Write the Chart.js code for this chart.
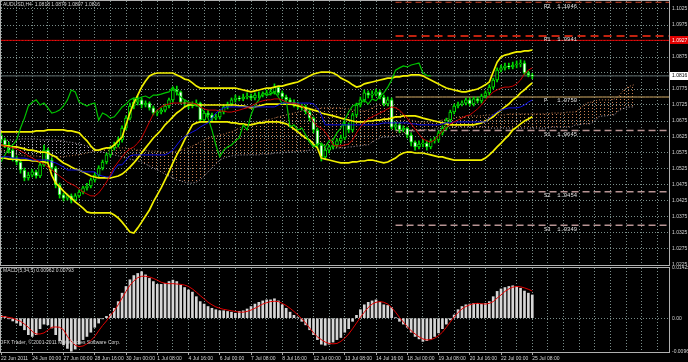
<!DOCTYPE html>
<html>
<head>
<meta charset="utf-8">
<script src="https://cdn.jsdelivr.net/npm/chart.js@4.4.1/dist/chart.umd.min.js"></script>
<style>
  html, body { margin: 0; padding: 0; background: #000; }
  #wrap { position: relative; width: 688px; height: 362px; overflow: hidden; background: #000; }
  #main { position: absolute; left: 0; top: 0; }
  #macd { position: absolute; left: 0; top: 266px; }
</style>
</head>
<body>
<div id="wrap">
  <canvas id="main" width="688" height="266"></canvas>
  <canvas id="macd" width="688" height="96"></canvas>
</div>
<script>
// ---- data (AUDUSD H4, 22 Jun - 25 Jul 2011) ----
const symbolTitle = 'AUDUSD,H4  1.0818 1.0879 1.0807 1.0816';
const macdTitle = 'MACD(5,34,5) 0.00962 0.00793';
const copyright = 'IFX Trader, \u00a9 2001-2011 MetaQuotes Software Corp.';

const SLOTS = 172;        // bar slots visible across the window
const LABEL_EVERY = 8;    // one time label every 8 bars
const CLOUD_SHIFT = 26;   // chikou drawn 26 bars back
const PIVOT_FROM = 101;   // pivot lines start at this bar

const tickLabels = ['22 Jun 2011', '24 Jun 00:00', '27 Jun 00:00', '28 Jun 16:00', '30 Jun 00:00',
  '1 Jul 08:00', '4 Jul 16:00', '6 Jul 00:00', '7 Jul 08:00', '8 Jul 16:00', '12 Jul 00:00',
  '13 Jul 08:00', '14 Jul 16:00', '18 Jul 00:00', '19 Jul 08:00', '20 Jul 16:00', '22 Jul 00:00',
  '25 Jul 08:00'];

const priceTicks = [1.0225, 1.0275, 1.0325, 1.0375, 1.0425, 1.0475, 1.0525, 1.0575, 1.0625, 1.0675,
  1.0725, 1.0775, 1.0825, 1.0875, 1.0925, 1.0975, 1.1025];
const hiddenPriceTicks = [1.0825, 1.0925];
const PRICE_MIN = 1.0225, PRICE_MAX = 1.1050;

const opens = [
  1.0630,1.0616,1.0600,1.0584,1.0559,1.0547,1.0522,1.0497,1.0506,1.0516,
  1.0503,1.0538,1.0584,1.0553,1.0528,1.0475,1.0444,1.0434,1.0441,1.0428,
  1.0441,1.0453,1.0466,1.0472,1.0491,1.0506,1.0528,1.0547,1.0569,1.0591,
  1.0600,1.0616,1.0653,1.0684,1.0722,1.0734,1.0741,1.0725,1.0731,1.0716,
  1.0700,1.0703,1.0709,1.0722,1.0741,1.0772,1.0766,1.0734,1.0728,1.0722,
  1.0728,1.0731,1.0678,1.0700,1.0694,1.0684,1.0688,1.0703,1.0719,1.0728,
  1.0741,1.0747,1.0744,1.0750,1.0753,1.0747,1.0756,1.0756,1.0759,1.0763,
  1.0766,1.0781,1.0763,1.0750,1.0741,1.0734,1.0728,1.0722,1.0719,1.0703,
  1.0684,1.0647,1.0600,1.0563,1.0584,1.0594,1.0600,1.0613,1.0622,1.0663,
  1.0647,1.0694,1.0725,1.0741,1.0763,1.0756,1.0759,1.0766,1.0750,1.0728,
  1.0741,1.0656,1.0663,1.0647,1.0653,1.0631,1.0609,1.0594,1.0603,1.0606,
  1.0594,1.0613,1.0616,1.0638,1.0653,1.0678,1.0703,1.0722,1.0728,1.0731,
  1.0741,1.0728,1.0744,1.0738,1.0753,1.0763,1.0781,1.0803,1.0834,1.0841,
  1.0847,1.0844,1.0850,1.0853,1.0856,1.0825,1.0818];
const highs = [
  1.0641,1.0622,1.0609,1.0590,1.0566,1.0553,1.0528,1.0515,1.0524,1.0522,
  1.0545,1.0600,1.0590,1.0560,1.0533,1.0481,1.0450,1.0447,1.0447,1.0448,
  1.0460,1.0472,1.0480,1.0497,1.0513,1.0535,1.0553,1.0575,1.0597,1.0609,
  1.0625,1.0660,1.0691,1.0731,1.0744,1.0753,1.0747,1.0738,1.0735,1.0722,
  1.0709,1.0716,1.0728,1.0747,1.0781,1.0784,1.0769,1.0741,1.0734,1.0735,
  1.0741,1.0734,1.0706,1.0709,1.0700,1.0697,1.0709,1.0725,1.0734,1.0747,
  1.0756,1.0753,1.0759,1.0763,1.0759,1.0763,1.0766,1.0766,1.0772,1.0775,
  1.0791,1.0784,1.0769,1.0756,1.0747,1.0741,1.0734,1.0728,1.0725,1.0709,
  1.0688,1.0653,1.0606,1.0591,1.0600,1.0609,1.0619,1.0631,1.0672,1.0669,
  1.0700,1.0731,1.0750,1.0772,1.0769,1.0769,1.0775,1.0772,1.0756,1.0750,
  1.0747,1.0672,1.0669,1.0660,1.0656,1.0638,1.0613,1.0613,1.0616,1.0613,
  1.0619,1.0625,1.0644,1.0660,1.0684,1.0709,1.0728,1.0734,1.0738,1.0747,
  1.0747,1.0750,1.0750,1.0759,1.0769,1.0788,1.0809,1.0841,1.0850,1.0856,
  1.0856,1.0859,1.0863,1.0866,1.0863,1.0831,1.0824];
const lows = [
  1.0608,1.0592,1.0575,1.0550,1.0538,1.0512,1.0488,1.0490,1.0500,1.0496,
  1.0498,1.0533,1.0547,1.0520,1.0466,1.0434,1.0425,1.0428,1.0419,1.0422,
  1.0436,1.0447,1.0459,1.0466,1.0484,1.0500,1.0522,1.0541,1.0563,1.0584,
  1.0594,1.0609,1.0647,1.0678,1.0713,1.0725,1.0716,1.0719,1.0709,1.0694,
  1.0691,1.0697,1.0703,1.0716,1.0734,1.0756,1.0728,1.0719,1.0713,1.0716,
  1.0722,1.0672,1.0672,1.0688,1.0675,1.0678,1.0681,1.0697,1.0713,1.0722,
  1.0734,1.0738,1.0738,1.0744,1.0741,1.0741,1.0747,1.0750,1.0753,1.0756,
  1.0759,1.0756,1.0744,1.0734,1.0725,1.0719,1.0713,1.0709,1.0697,1.0675,
  1.0638,1.0591,1.0550,1.0556,1.0575,1.0588,1.0594,1.0606,1.0616,1.0638,
  1.0641,1.0688,1.0719,1.0734,1.0747,1.0747,1.0753,1.0744,1.0722,1.0722,
  1.0650,1.0647,1.0638,1.0641,1.0622,1.0597,1.0584,1.0588,1.0594,1.0584,
  1.0588,1.0606,1.0609,1.0631,1.0647,1.0672,1.0697,1.0716,1.0722,1.0725,
  1.0722,1.0722,1.0731,1.0731,1.0747,1.0756,1.0775,1.0797,1.0828,1.0834,
  1.0838,1.0838,1.0841,1.0844,1.0819,1.0813,1.0807];
const closes = [
  1.0616,1.0600,1.0584,1.0559,1.0547,1.0522,1.0497,1.0506,1.0516,1.0503,
  1.0538,1.0584,1.0553,1.0528,1.0475,1.0444,1.0434,1.0441,1.0428,1.0441,
  1.0453,1.0466,1.0472,1.0491,1.0506,1.0528,1.0547,1.0569,1.0591,1.0600,
  1.0616,1.0653,1.0684,1.0722,1.0734,1.0741,1.0725,1.0731,1.0716,1.0700,
  1.0703,1.0709,1.0722,1.0741,1.0772,1.0766,1.0734,1.0728,1.0722,1.0728,
  1.0731,1.0678,1.0700,1.0694,1.0684,1.0688,1.0703,1.0719,1.0728,1.0741,
  1.0747,1.0744,1.0750,1.0753,1.0747,1.0756,1.0756,1.0759,1.0763,1.0766,
  1.0781,1.0763,1.0750,1.0741,1.0734,1.0728,1.0722,1.0719,1.0703,1.0684,
  1.0647,1.0600,1.0563,1.0584,1.0594,1.0600,1.0613,1.0622,1.0663,1.0647,
  1.0694,1.0725,1.0741,1.0763,1.0756,1.0759,1.0766,1.0750,1.0728,1.0741,
  1.0656,1.0663,1.0647,1.0653,1.0631,1.0609,1.0594,1.0603,1.0606,1.0594,
  1.0613,1.0616,1.0638,1.0653,1.0678,1.0703,1.0722,1.0728,1.0731,1.0741,
  1.0728,1.0744,1.0738,1.0753,1.0763,1.0781,1.0803,1.0834,1.0841,1.0847,
  1.0844,1.0850,1.0853,1.0856,1.0825,1.0818,1.0816];

// Bollinger bands
const bbUpper = [
  1.0641,1.0641,1.0641,1.0641,1.0641,1.0641,1.0641,1.0641,1.0641,1.0644,
  1.0644,1.0644,1.0647,1.0647,1.0647,1.0647,1.0647,1.0644,1.0644,1.0641,
  1.0638,1.0625,1.0613,1.0597,1.0584,1.0584,1.0588,1.0591,1.0591,1.0600,
  1.0613,1.0625,1.0663,1.0700,1.0731,1.0756,1.0781,1.0800,1.0816,1.0822,
  1.0825,1.0825,1.0825,1.0825,1.0825,1.0819,1.0813,1.0806,1.0803,1.0794,
  1.0784,1.0778,1.0778,1.0778,1.0778,1.0778,1.0778,1.0778,1.0778,1.0778,
  1.0778,1.0775,1.0772,1.0769,1.0766,1.0769,1.0772,1.0775,1.0778,1.0778,
  1.0781,1.0784,1.0784,1.0788,1.0791,1.0794,1.0797,1.0803,1.0809,1.0816,
  1.0822,1.0825,1.0828,1.0828,1.0828,1.0825,1.0819,1.0809,1.0803,1.0797,
  1.0788,1.0781,1.0784,1.0791,1.0794,1.0797,1.0800,1.0803,1.0806,1.0809,
  1.0809,1.0813,1.0813,1.0816,1.0816,1.0819,1.0819,1.0819,1.0816,1.0809,
  1.0803,1.0797,1.0791,1.0784,1.0778,1.0775,1.0772,1.0769,1.0766,1.0766,
  1.0769,1.0772,1.0775,1.0781,1.0788,1.0797,1.0828,1.0859,1.0875,1.0881,
  1.0884,1.0888,1.0891,1.0891,1.0894,1.0894,1.0897];
const bbMiddle = [
  1.0600,1.0597,1.0597,1.0594,1.0594,1.0591,1.0588,1.0584,1.0584,1.0581,
  1.0578,1.0578,1.0575,1.0569,1.0563,1.0553,1.0544,1.0538,1.0531,1.0525,
  1.0522,1.0516,1.0509,1.0503,1.0500,1.0497,1.0497,1.0497,1.0497,1.0500,
  1.0503,1.0509,1.0519,1.0531,1.0544,1.0559,1.0575,1.0591,1.0606,1.0622,
  1.0634,1.0647,1.0663,1.0675,1.0688,1.0700,1.0709,1.0719,1.0725,1.0725,
  1.0725,1.0725,1.0725,1.0725,1.0725,1.0725,1.0725,1.0725,1.0725,1.0725,
  1.0725,1.0722,1.0722,1.0719,1.0716,1.0719,1.0722,1.0725,1.0728,1.0728,
  1.0728,1.0728,1.0728,1.0728,1.0728,1.0725,1.0722,1.0719,1.0716,1.0713,
  1.0709,1.0706,1.0700,1.0697,1.0694,1.0691,1.0688,1.0684,1.0681,1.0678,
  1.0675,1.0672,1.0672,1.0672,1.0675,1.0675,1.0678,1.0678,1.0681,1.0681,
  1.0684,1.0688,1.0688,1.0691,1.0691,1.0691,1.0691,1.0688,1.0684,1.0681,
  1.0678,1.0675,1.0672,1.0669,1.0666,1.0663,1.0663,1.0663,1.0663,1.0663,
  1.0663,1.0663,1.0666,1.0669,1.0675,1.0681,1.0688,1.0700,1.0709,1.0719,
  1.0728,1.0741,1.0750,1.0763,1.0772,1.0784,1.0794];
const bbLower = [
  1.0559,1.0559,1.0556,1.0556,1.0556,1.0553,1.0553,1.0553,1.0550,1.0550,
  1.0547,1.0547,1.0544,1.0506,1.0481,1.0469,1.0456,1.0444,1.0434,1.0422,
  1.0413,1.0403,1.0391,1.0388,1.0388,1.0388,1.0388,1.0388,1.0388,1.0381,
  1.0372,1.0359,1.0344,1.0328,1.0325,1.0341,1.0359,1.0378,1.0397,1.0422,
  1.0444,1.0466,1.0491,1.0516,1.0544,1.0569,1.0591,1.0616,1.0641,1.0663,
  1.0669,1.0672,1.0672,1.0672,1.0672,1.0672,1.0672,1.0672,1.0672,1.0669,
  1.0669,1.0666,1.0666,1.0663,1.0663,1.0666,1.0669,1.0669,1.0672,1.0672,
  1.0672,1.0672,1.0669,1.0666,1.0659,1.0650,1.0641,1.0631,1.0622,1.0616,
  1.0603,1.0591,1.0559,1.0556,1.0553,1.0550,1.0547,1.0544,1.0544,1.0544,
  1.0547,1.0547,1.0550,1.0550,1.0553,1.0553,1.0550,1.0547,1.0544,1.0547,
  1.0553,1.0559,1.0569,1.0575,1.0578,1.0578,1.0575,1.0575,1.0575,1.0572,
  1.0569,1.0566,1.0563,1.0563,1.0559,1.0556,1.0553,1.0553,1.0553,1.0553,
  1.0553,1.0553,1.0553,1.0553,1.0559,1.0569,1.0581,1.0594,1.0606,1.0619,
  1.0631,1.0647,1.0656,1.0666,1.0675,1.0681,1.0688];

// Ichimoku
const tenkan = [
  1.0600,1.0597,1.0594,1.0591,1.0588,1.0581,1.0575,1.0566,1.0559,1.0553,
  1.0547,1.0541,1.0531,1.0522,1.0513,1.0503,1.0494,1.0484,1.0478,1.0472,
  1.0463,1.0453,1.0447,1.0441,1.0441,1.0450,1.0466,1.0484,1.0506,1.0531,
  1.0547,1.0563,1.0578,1.0588,1.0594,1.0606,1.0622,1.0647,1.0672,1.0697,
  1.0709,1.0719,1.0725,1.0728,1.0731,1.0731,1.0731,1.0731,1.0731,1.0731,
  1.0728,1.0719,1.0713,1.0709,1.0709,1.0709,1.0706,1.0706,1.0703,1.0703,
  1.0706,1.0709,1.0713,1.0716,1.0722,1.0728,1.0734,1.0738,1.0741,1.0741,
  1.0744,1.0744,1.0741,1.0734,1.0731,1.0731,1.0728,1.0722,1.0709,1.0694,
  1.0672,1.0659,1.0653,1.0641,1.0622,1.0600,1.0597,1.0597,1.0600,1.0603,
  1.0616,1.0638,1.0656,1.0672,1.0681,1.0688,1.0694,1.0700,1.0706,1.0713,
  1.0719,1.0716,1.0709,1.0697,1.0684,1.0666,1.0650,1.0634,1.0619,1.0613,
  1.0609,1.0616,1.0628,1.0644,1.0656,1.0666,1.0672,1.0678,1.0684,1.0691,
  1.0694,1.0703,1.0713,1.0725,1.0741,1.0753,1.0766,1.0772,1.0778,1.0781,
  1.0781,1.0784,1.0791,1.0803,1.0822,1.0834,1.0841];
const kijun = [
  1.0563,1.0563,1.0563,1.0559,1.0559,1.0559,1.0559,1.0556,1.0553,1.0553,
  1.0553,1.0553,1.0553,1.0547,1.0544,1.0538,1.0531,1.0522,1.0522,1.0522,
  1.0522,1.0516,1.0516,1.0516,1.0516,1.0506,1.0503,1.0500,1.0500,1.0522,
  1.0538,1.0538,1.0553,1.0566,1.0569,1.0569,1.0569,1.0569,1.0569,1.0569,
  1.0569,1.0569,1.0569,1.0575,1.0584,1.0600,1.0616,1.0625,1.0634,1.0641,
  1.0647,1.0656,1.0663,1.0669,1.0684,1.0700,1.0709,1.0716,1.0719,1.0719,
  1.0719,1.0719,1.0719,1.0719,1.0719,1.0719,1.0719,1.0719,1.0719,1.0719,
  1.0719,1.0725,1.0731,1.0731,1.0731,1.0731,1.0731,1.0731,1.0731,1.0731,
  1.0728,1.0716,1.0694,1.0663,1.0663,1.0663,1.0663,1.0663,1.0663,1.0663,
  1.0663,1.0663,1.0663,1.0663,1.0663,1.0663,1.0663,1.0666,1.0669,1.0669,
  1.0669,1.0669,1.0669,1.0669,1.0669,1.0666,1.0666,1.0663,1.0663,1.0663,
  1.0663,1.0663,1.0663,1.0666,1.0669,1.0669,1.0672,1.0672,1.0672,1.0672,
  1.0672,1.0672,1.0672,1.0672,1.0672,1.0684,1.0694,1.0703,1.0709,1.0713,
  1.0716,1.0716,1.0716,1.0719,1.0725,1.0734,1.0741];
const spanA = [
  1.0584,1.0581,1.0578,1.0575,1.0572,1.0569,1.0566,1.0566,1.0566,1.0566,
  1.0563,1.0563,1.0563,1.0563,1.0563,1.0563,1.0563,1.0566,1.0566,1.0569,
  1.0569,1.0572,1.0575,1.0578,1.0581,1.0584,1.0588,1.0588,1.0591,1.0591,
  1.0591,1.0591,1.0591,1.0588,1.0588,1.0584,1.0584,1.0584,1.0581,1.0581,
  1.0581,1.0578,1.0578,1.0578,1.0578,1.0581,1.0584,1.0588,1.0591,1.0597,
  1.0603,1.0609,1.0616,1.0622,1.0625,1.0628,1.0631,1.0634,1.0638,1.0641,
  1.0647,1.0653,1.0659,1.0663,1.0666,1.0669,1.0672,1.0675,1.0678,1.0681,
  1.0684,1.0688,1.0691,1.0694,1.0697,1.0700,1.0703,1.0706,1.0709,1.0709,
  1.0713,1.0713,1.0716,1.0716,1.0716,1.0716,1.0716,1.0716,1.0713,1.0713,
  1.0709,1.0709,1.0706,1.0706,1.0709,1.0716,1.0722,1.0728,1.0731,1.0731,
  1.0728,1.0719,1.0706,1.0694,1.0684,1.0678,1.0675,1.0672,1.0672,1.0672,
  1.0672,1.0675,1.0675,1.0678,1.0681,1.0684,1.0684,1.0688,1.0688,1.0688,
  1.0691,1.0691,1.0691,1.0691,1.0694,1.0694,1.0694,1.0694,1.0694,1.0694,
  1.0697,1.0697,1.0697,1.0697,1.0697,1.0697,1.0697,1.0697,1.0697,1.0697,
  1.0697,1.0700,1.0700,1.0700,1.0700,1.0703,1.0703,1.0703,1.0713,1.0722,
  1.0731,1.0734,1.0738,1.0741,1.0741,1.0741,1.0741,1.0744,1.0750,1.0766,
  1.0778,1.0784,1.0788];
const spanB = [
  1.0613,1.0613,1.0616,1.0616,1.0616,1.0619,1.0619,1.0619,1.0619,1.0619,
  1.0616,1.0616,1.0616,1.0616,1.0616,1.0613,1.0613,1.0609,1.0609,1.0606,
  1.0603,1.0600,1.0597,1.0594,1.0588,1.0581,1.0578,1.0575,1.0572,1.0569,
  1.0566,1.0563,1.0559,1.0556,1.0553,1.0550,1.0547,1.0541,1.0534,1.0528,
  1.0522,1.0516,1.0509,1.0503,1.0497,1.0491,1.0488,1.0484,1.0481,1.0481,
  1.0484,1.0491,1.0503,1.0516,1.0528,1.0541,1.0553,1.0559,1.0563,1.0566,
  1.0566,1.0569,1.0569,1.0569,1.0569,1.0569,1.0569,1.0572,1.0572,1.0572,
  1.0575,1.0575,1.0575,1.0578,1.0578,1.0578,1.0581,1.0581,1.0581,1.0584,
  1.0584,1.0584,1.0584,1.0588,1.0588,1.0588,1.0591,1.0591,1.0591,1.0594,
  1.0594,1.0597,1.0597,1.0600,1.0600,1.0609,1.0616,1.0622,1.0625,1.0625,
  1.0625,1.0628,1.0631,1.0634,1.0638,1.0641,1.0644,1.0647,1.0647,1.0647,
  1.0647,1.0650,1.0650,1.0653,1.0653,1.0653,1.0656,1.0656,1.0656,1.0656,
  1.0656,1.0656,1.0656,1.0656,1.0656,1.0653,1.0653,1.0653,1.0653,1.0653,
  1.0653,1.0653,1.0653,1.0653,1.0653,1.0653,1.0653,1.0653,1.0653,1.0653,
  1.0653,1.0656,1.0656,1.0656,1.0656,1.0656,1.0656,1.0663,1.0663,1.0666,
  1.0666,1.0666,1.0675,1.0688,1.0691,1.0691,1.0694,1.0694,1.0706,1.0713,
  1.0716,1.0719,1.0719];

// pivot levels, price lines
const pivotNames = ['R2', 'R1', 'P', 'S1', 'S2', 'S3'];
const pivotValues = [1.1046, 1.0941, 1.0750, 1.0645, 1.0454, 1.0349];
const alertLevel = 1.0927;
const bidPrice = 1.0816;

// MACD(5,34,5)
const macdMain = [
  0.0008,0.0005,-0.0002,-0.0008,-0.0014,-0.0021,-0.0033,-0.0047,-0.0052,-0.0047,
  -0.0030,-0.0017,-0.0019,-0.0028,-0.0047,-0.0064,-0.0076,-0.0086,-0.0094,-0.0088,
  -0.0074,-0.0061,-0.0052,-0.0040,-0.0026,-0.0014,-0.0002,0.0005,0.0011,0.0028,
  0.0047,0.0071,0.0090,0.0109,0.0121,0.0127,0.0132,0.0123,0.0113,0.0104,
  0.0096,0.0096,0.0099,0.0104,0.0108,0.0104,0.0094,0.0087,0.0080,0.0074,
  0.0061,0.0047,0.0040,0.0033,0.0028,0.0024,0.0021,0.0021,0.0019,0.0017,
  0.0014,0.0019,0.0021,0.0026,0.0033,0.0040,0.0045,0.0049,0.0052,0.0052,
  0.0055,0.0049,0.0038,0.0028,0.0017,0.0008,0.0001,-0.0009,-0.0019,-0.0033,
  -0.0047,-0.0061,-0.0074,-0.0077,-0.0074,-0.0068,-0.0061,-0.0055,-0.0040,-0.0030,
  -0.0009,0.0008,0.0024,0.0038,0.0045,0.0049,0.0052,0.0045,0.0038,0.0036,
  0.0030,0.0001,-0.0009,-0.0017,-0.0026,-0.0040,-0.0052,-0.0059,-0.0066,-0.0064,
  -0.0059,-0.0052,-0.0042,-0.0030,-0.0017,-0.0005,0.0009,0.0024,0.0033,0.0038,
  0.0040,0.0042,0.0042,0.0040,0.0042,0.0047,0.0061,0.0076,0.0083,0.0087,
  0.0090,0.0092,0.0090,0.0085,0.0077,0.0071,0.0066];
const macdSignal = [
  0.0005,0.0004,0.0002,0.0000,-0.0005,-0.0009,-0.0017,-0.0026,-0.0038,-0.0045,
  -0.0045,-0.0042,-0.0034,-0.0026,-0.0025,-0.0026,-0.0033,-0.0052,-0.0066,-0.0077,
  -0.0081,-0.0079,-0.0073,-0.0064,-0.0052,-0.0036,-0.0021,-0.0008,0.0008,0.0021,
  0.0038,0.0057,0.0076,0.0093,0.0106,0.0115,0.0119,0.0119,0.0117,0.0113,
  0.0108,0.0102,0.0099,0.0098,0.0098,0.0097,0.0096,0.0094,0.0090,0.0083,
  0.0074,0.0064,0.0055,0.0045,0.0038,0.0032,0.0028,0.0025,0.0023,0.0021,
  0.0019,0.0017,0.0017,0.0019,0.0023,0.0028,0.0034,0.0040,0.0044,0.0047,
  0.0048,0.0047,0.0042,0.0036,0.0028,0.0019,0.0009,-0.0002,-0.0014,-0.0028,
  -0.0042,-0.0053,-0.0061,-0.0068,-0.0072,-0.0073,-0.0072,-0.0066,-0.0057,-0.0045,
  -0.0030,-0.0014,0.0002,0.0017,0.0030,0.0040,0.0045,0.0047,0.0045,0.0040,
  0.0030,0.0017,0.0002,-0.0011,-0.0024,-0.0036,-0.0045,-0.0053,-0.0059,-0.0062,
  -0.0061,-0.0057,-0.0050,-0.0040,-0.0026,-0.0011,0.0003,0.0016,0.0026,0.0033,
  0.0038,0.0041,0.0042,0.0041,0.0040,0.0042,0.0047,0.0057,0.0066,0.0076,
  0.0083,0.0088,0.0090,0.0089,0.0086,0.0082,0.0077];
const macdTicks = [-0.00962, 0, 0.01425];

// ---- styles ----
const FONT = 'Liberation Sans';
const TEXT = '#d4d4d4';
const GRID = '#7a8e8a';
const FRAME = '#b0b0b0';
const CANDLE = '#00e000';
const SANDY = 'rgb(200,128,84)';
const THISTLE = 'rgb(190,176,190)';
const pivotStyle = {
  R2: { color: '#d8492c', width: 1, dash: [6, 4] },
  R1: { color: '#c0220f', width: 2, dash: [8, 5] },
  P:  { color: '#d9b06a', width: 1, dash: [] },
  S1: { color: '#b89494', width: 1.5, dash: [7, 4] },
  S2: { color: '#b89494', width: 1.5, dash: [7, 4] },
  S3: { color: '#b89494', width: 1.5, dash: [7, 4] }
};

Chart.defaults.font.family = FONT;

// slot labels: a time label every 8 bars, empty otherwise
const slotLabels = Array.from({ length: SLOTS }, (_, i) =>
  (i % LABEL_EVERY === 0 && tickLabels[i / LABEL_EVERY]) ? tickLabels[i / LABEL_EVERY] : '');

function dotPattern(color) {
  const c = document.createElement('canvas');
  c.width = 4; c.height = 3;
  const g = c.getContext('2d');
  g.fillStyle = color;
  g.fillRect(0, 0, 1, 1);
  return g.createPattern(c, 'repeat');
}

function levelLine(value, from) {
  return Array.from({ length: SLOTS }, (_, i) => (i >= from ? value : null));
}

function lineSet(label, data, color, width, order, extra) {
  return Object.assign({ type: 'line', label, data, borderColor: color, borderWidth: width,
    pointRadius: 0, tension: 0, fill: false, order }, extra || {});
}

const gridEvery4 = ctx => (ctx.index % 4 === 0 ? GRID : 'transparent');

// no extra label padding: plot area must keep the exact window edges
function noPad(s) {
  s.paddingTop = 0; s.paddingBottom = 0; s.paddingLeft = 0; s.paddingRight = 0;
}

// frame + texts drawn on top
function overlay(drawExtra) {
  return {
    id: 'overlay',
    afterDraw(chart) {
      const { ctx, chartArea: a } = chart;
      ctx.save();
      ctx.strokeStyle = FRAME;
      ctx.lineWidth = 1;
      ctx.setLineDash([]);
      ctx.strokeRect(a.left - 0.5, a.top - 0.5, a.right - a.left + 1, a.bottom - a.top + 1);
      drawExtra(chart, ctx, a);
      ctx.restore();
    }
  };
}

function priceBox(ctx, a, y, text, bg, fg) {
  ctx.fillStyle = bg;
  ctx.fillRect(a.right + 1, Math.round(y) - 4, 19, 8);
  ctx.fillStyle = fg;
  ctx.font = '5px ' + FONT;
  ctx.textAlign = 'left';
  ctx.textBaseline = 'middle';
  ctx.fillText(text, a.right + 3, y);
}

// ---- main price window ----
const pivotSets = pivotNames.map((n, i) => lineSet(n, levelLine(pivotValues[i], PIVOT_FROM),
  pivotStyle[n].color, pivotStyle[n].width, 24, { borderDash: pivotStyle[n].dash }));

new Chart(document.getElementById('main'), {
  type: 'bar',
  data: {
    labels: slotLabels,
    datasets: [
      lineSet('Senkou B', spanB, THISTLE, 1, 30, { borderDash: [1, 2] }),
      lineSet('Senkou A', spanA, SANDY, 1, 29, { borderDash: [1, 2],
        fill: { target: '-1', above: dotPattern(SANDY), below: dotPattern(THISTLE) } }),
      ...pivotSets,
      lineSet('Bid', levelLine(bidPrice, 0), '#687878', 1, 23),
      lineSet('Alert', levelLine(alertLevel, 0), '#e00000', 1, 23),
      { type: 'bar', label: 'wick', data: lows.map((l, i) => [l, highs[i]]), backgroundColor: CANDLE,
        barThickness: 1, grouped: false, order: 20 },
      { type: 'bar', label: 'body', data: opens.map((o, i) => [o, closes[i]]),
        backgroundColor: opens.map((o, i) => (closes[i] >= o ? '#000000' : '#ffffff')),
        borderColor: CANDLE, borderWidth: 1, borderSkipped: false, barThickness: 3,
        grouped: false, order: 19 },
      lineSet('BB upper', bbUpper, '#f2f000', 1.7, 6),
      lineSet('BB middle', bbMiddle, '#f2f000', 1.7, 6),
      lineSet('BB lower', bbLower, '#f2f000', 1.7, 6),
      lineSet('Chikou', closes.slice(CLOUD_SHIFT), '#00c400', 1.2, 5),
      lineSet('Kijun', kijun, '#1010e8', 1, 4),
      lineSet('Tenkan', tenkan, '#cc0000', 1, 3)
    ]
  },
  options: {
    responsive: false,
    animation: false,
    devicePixelRatio: 1,
    layout: { padding: { left: 1, top: 1, right: 0, bottom: 1 } },
    plugins: { legend: { display: false }, tooltip: { enabled: false } },
    scales: {
      x: {
        offset: false,
        grid: { offset: false, color: gridEvery4, drawTicks: false },
        border: { display: false, dash: [1, 2] },
        ticks: { display: false, autoSkip: false, maxRotation: 0 },
        afterFit: s => { s.height = 0; noPad(s); }
      },
      y: {
        position: 'right',
        min: PRICE_MIN,
        max: PRICE_MAX,
        afterBuildTicks: s => { s.ticks = priceTicks.map(v => ({ value: v })); },
        grid: { color: GRID, drawTicks: false },
        border: { display: false, dash: [1, 2] },
        ticks: {
          color: TEXT, padding: 3, font: { size: 5 },
          callback: v => (hiddenPriceTicks.some(h => Math.abs(h - v) < 1e-7) ? '' : v.toFixed(4))
        },
        afterFit: s => { s.width = 19; noPad(s); }
      }
    }
  },
  plugins: [overlay((chart, ctx, a) => {
    const x = chart.scales.x, y = chart.scales.y;
    ctx.fillStyle = TEXT;
    ctx.font = '5px ' + FONT;
    ctx.textAlign = 'left';
    ctx.textBaseline = 'middle';
    ctx.fillText(symbolTitle, 3, 5);
    // pivot captions
    ctx.font = '5.5px "Liberation Mono"';
    ctx.fillStyle = '#e6e6e6';
    const px = x.getPixelForValue(139);
    pivotNames.forEach((n, i) => {
      ctx.fillText(n + (n.length === 1 ? '  ' : ' ') + ' ' + pivotValues[i].toFixed(4), px, y.getPixelForValue(pivotValues[i]) + 4);
    });
    priceBox(ctx, a, y.getPixelForValue(alertLevel), alertLevel.toFixed(4), '#e00000', '#ffffff');
    priceBox(ctx, a, y.getPixelForValue(bidPrice), bidPrice.toFixed(4), '#ffffff', '#000000');
  })]
});

// ---- MACD window ----
new Chart(document.getElementById('macd'), {
  type: 'bar',
  data: {
    labels: slotLabels,
    datasets: [
      { type: 'bar', label: 'MACD', data: macdMain, backgroundColor: '#d6d6d6', barThickness: 2,
        grouped: false, order: 2 },
      lineSet('Signal', macdSignal, '#e00000', 1, 1)
    ]
  },
  options: {
    responsive: false,
    animation: false,
    devicePixelRatio: 1,
    layout: { padding: { left: 1, top: 2, right: 0, bottom: 0 } },
    plugins: { legend: { display: false }, tooltip: { enabled: false } },
    scales: {
      x: {
        offset: false,
        grid: {
          offset: false, color: gridEvery4, tickLength: 3,
          tickColor: ctx => (slotLabels[ctx.index] ? '#a8a8a8' : 'transparent')
        },
        border: { display: false, dash: [1, 2] },
        ticks: { color: TEXT, font: { size: 5 }, autoSkip: false, maxRotation: 0, minRotation: 0,
          align: 'start', padding: 1 },
        afterFit: s => { s.height = 10; noPad(s); }
      },
      y: {
        position: 'right',
        min: macdTicks[0],
        max: macdTicks[2],
        afterBuildTicks: s => { s.ticks = macdTicks.map(v => ({ value: v })); },
        grid: { color: ctx => (ctx.tick && ctx.tick.value === 0 ? GRID : 'transparent'), drawTicks: false },
        border: { display: false, dash: [1, 2] },
        ticks: { color: TEXT, padding: 3, font: { size: 5 },
          callback: v => (v === 0 ? '0.00' : v.toFixed(5)) },
        afterFit: s => { s.width = 19; noPad(s); }
      }
    }
  },
  plugins: [overlay((chart, ctx) => {
    ctx.fillStyle = TEXT;
    ctx.font = '5px ' + FONT;
    ctx.textAlign = 'left';
    ctx.textBaseline = 'middle';
    ctx.fillText(macdTitle, 3, 5);
    ctx.fillText(copyright, 2, 77);
  })]
});
</script>
</body>
</html>
